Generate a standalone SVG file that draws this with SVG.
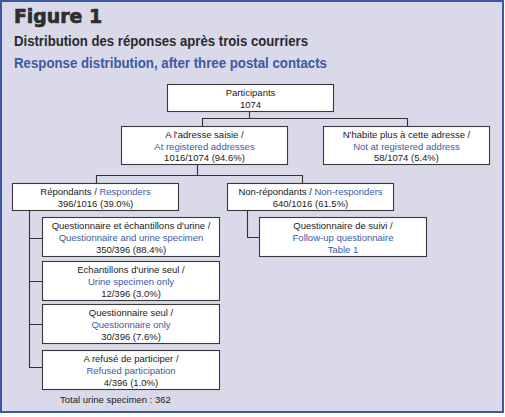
<svg xmlns="http://www.w3.org/2000/svg" width="505" height="417" viewBox="0 0 505 417">
<defs>
<style>
.bg{fill:#d9d9e9;stroke:#3b5aa5;stroke-width:2}
.box{fill:#ffffff;stroke:#3a3a3a;stroke-width:1.1}
.con{fill:none;stroke:#333333;stroke-width:1.1}
.t{font-family:"Liberation Sans",Arial,sans-serif;font-size:9.5px;fill:#1a1a1a;text-anchor:middle}
.b{fill:#3b5aa5}
.title{font-family:"DejaVu Sans",sans-serif;font-weight:900;font-size:19px;fill:#2e2e2e;stroke:#2e2e2e;stroke-width:0.7}
.sub{font-family:"Liberation Sans",Arial,sans-serif;font-weight:bold;font-size:14px}
</style>
</defs>
<rect x="0" y="0" width="505" height="417" fill="#ffffff"/>
<rect class="bg" x="1" y="1" width="502" height="411"/>
<text class="title" x="14" y="23" textLength="88" lengthAdjust="spacingAndGlyphs">Figure 1</text>
<text class="sub" x="14" y="46" fill="#2a2a2a" textLength="294" lengthAdjust="spacingAndGlyphs">Distribution des réponses après trois courriers</text>
<text class="sub" x="14" y="68" fill="#3b5aa5" textLength="313" lengthAdjust="spacingAndGlyphs">Response distribution, after three postal contacts</text>

<g id="connectors">
<path class="con" d="M249.5 111 V118.5 M202.5 126 V118.5 H407.5 V126"/>
<path class="con" d="M197.5 165 V175.5 M96.5 183 V175.5 H302.5 V183"/>
<path class="con" d="M29.5 210 V367.5 H42 M29.5 238.5 H42 M29.5 281.5 H42 M29.5 324.5 H42"/>
<path class="con" d="M247.5 210 V237.5 H259"/>
</g>

<g id="participants">
<rect class="box" x="167.5" y="84.5" width="166" height="27"/>
<text class="t" x="250.5" y="96">Participants</text>
<text class="t" x="250.5" y="107.5">1074</text>
</g>

<g id="adresse">
<rect class="box" x="121.5" y="126.5" width="166" height="38"/>
<text class="t" x="204.5" y="138">A l'adresse saisie /</text>
<text class="t b" x="204.5" y="149.5">At registered addresses</text>
<text class="t" x="204.5" y="161">1016/1074 (94.6%)</text>
</g>

<g id="nonadresse">
<rect class="box" x="323.5" y="126.5" width="166" height="38"/>
<text class="t" x="406.5" y="138">N'habite plus à cette adresse /</text>
<text class="t b" x="406.5" y="149.5">Not at registered address</text>
<text class="t" x="406.5" y="161">58/1074 (5.4%)</text>
</g>

<g id="repondants">
<rect class="box" x="12.5" y="183.5" width="166" height="27"/>
<text class="t" x="95.5" y="195">Répondants / <tspan class="b">Responders</tspan></text>
<text class="t" x="95.5" y="206.5">396/1016 (39.0%)</text>
</g>

<g id="nonrepondants">
<rect class="box" x="227.5" y="183.5" width="166" height="27"/>
<text class="t" x="310.5" y="195">Non-répondants / <tspan class="b">Non-responders</tspan></text>
<text class="t" x="310.5" y="206.5">640/1016 (61.5%)</text>
</g>

<g id="suivi">
<rect class="box" x="259.5" y="217.5" width="167" height="39"/>
<text class="t" x="343" y="228.5">Questionnaire de suivi /</text>
<text class="t b" x="343" y="240.5">Follow-up questionnaire</text>
<text class="t b" x="343" y="252.5">Table 1</text>
</g>

<g id="quest-urine">
<rect class="box" x="42.5" y="217.5" width="177" height="39"/>
<text class="t" x="131" y="228.5">Questionnaire et échantillons d'urine /</text>
<text class="t b" x="131" y="240.5">Questionnaire and urine specimen</text>
<text class="t" x="131" y="252.5">350/396 (88.4%)</text>
</g>

<g id="urine-seul">
<rect class="box" x="42.5" y="261.5" width="177" height="39"/>
<text class="t" x="131" y="272.5">Echantillons d'urine seul /</text>
<text class="t b" x="131" y="284.5">Urine specimen only</text>
<text class="t" x="131" y="296.5">12/396 (3.0%)</text>
</g>

<g id="quest-seul">
<rect class="box" x="42.5" y="304.5" width="177" height="39"/>
<text class="t" x="131" y="315.5">Questionnaire seul /</text>
<text class="t b" x="131" y="327.5">Questionnaire only</text>
<text class="t" x="131" y="339.5">30/396 (7.6%)</text>
</g>

<g id="refus">
<rect class="box" x="42.5" y="350.5" width="177" height="39"/>
<text class="t" x="131" y="361.5">A refusé de participer  /</text>
<text class="t b" x="131" y="373.5">Refused participation</text>
<text class="t" x="131" y="385.5">4/396 (1.0%)</text>
</g>

<text class="t" x="60" y="403" style="text-anchor:start">Total urine specimen : 362</text>
</svg>
